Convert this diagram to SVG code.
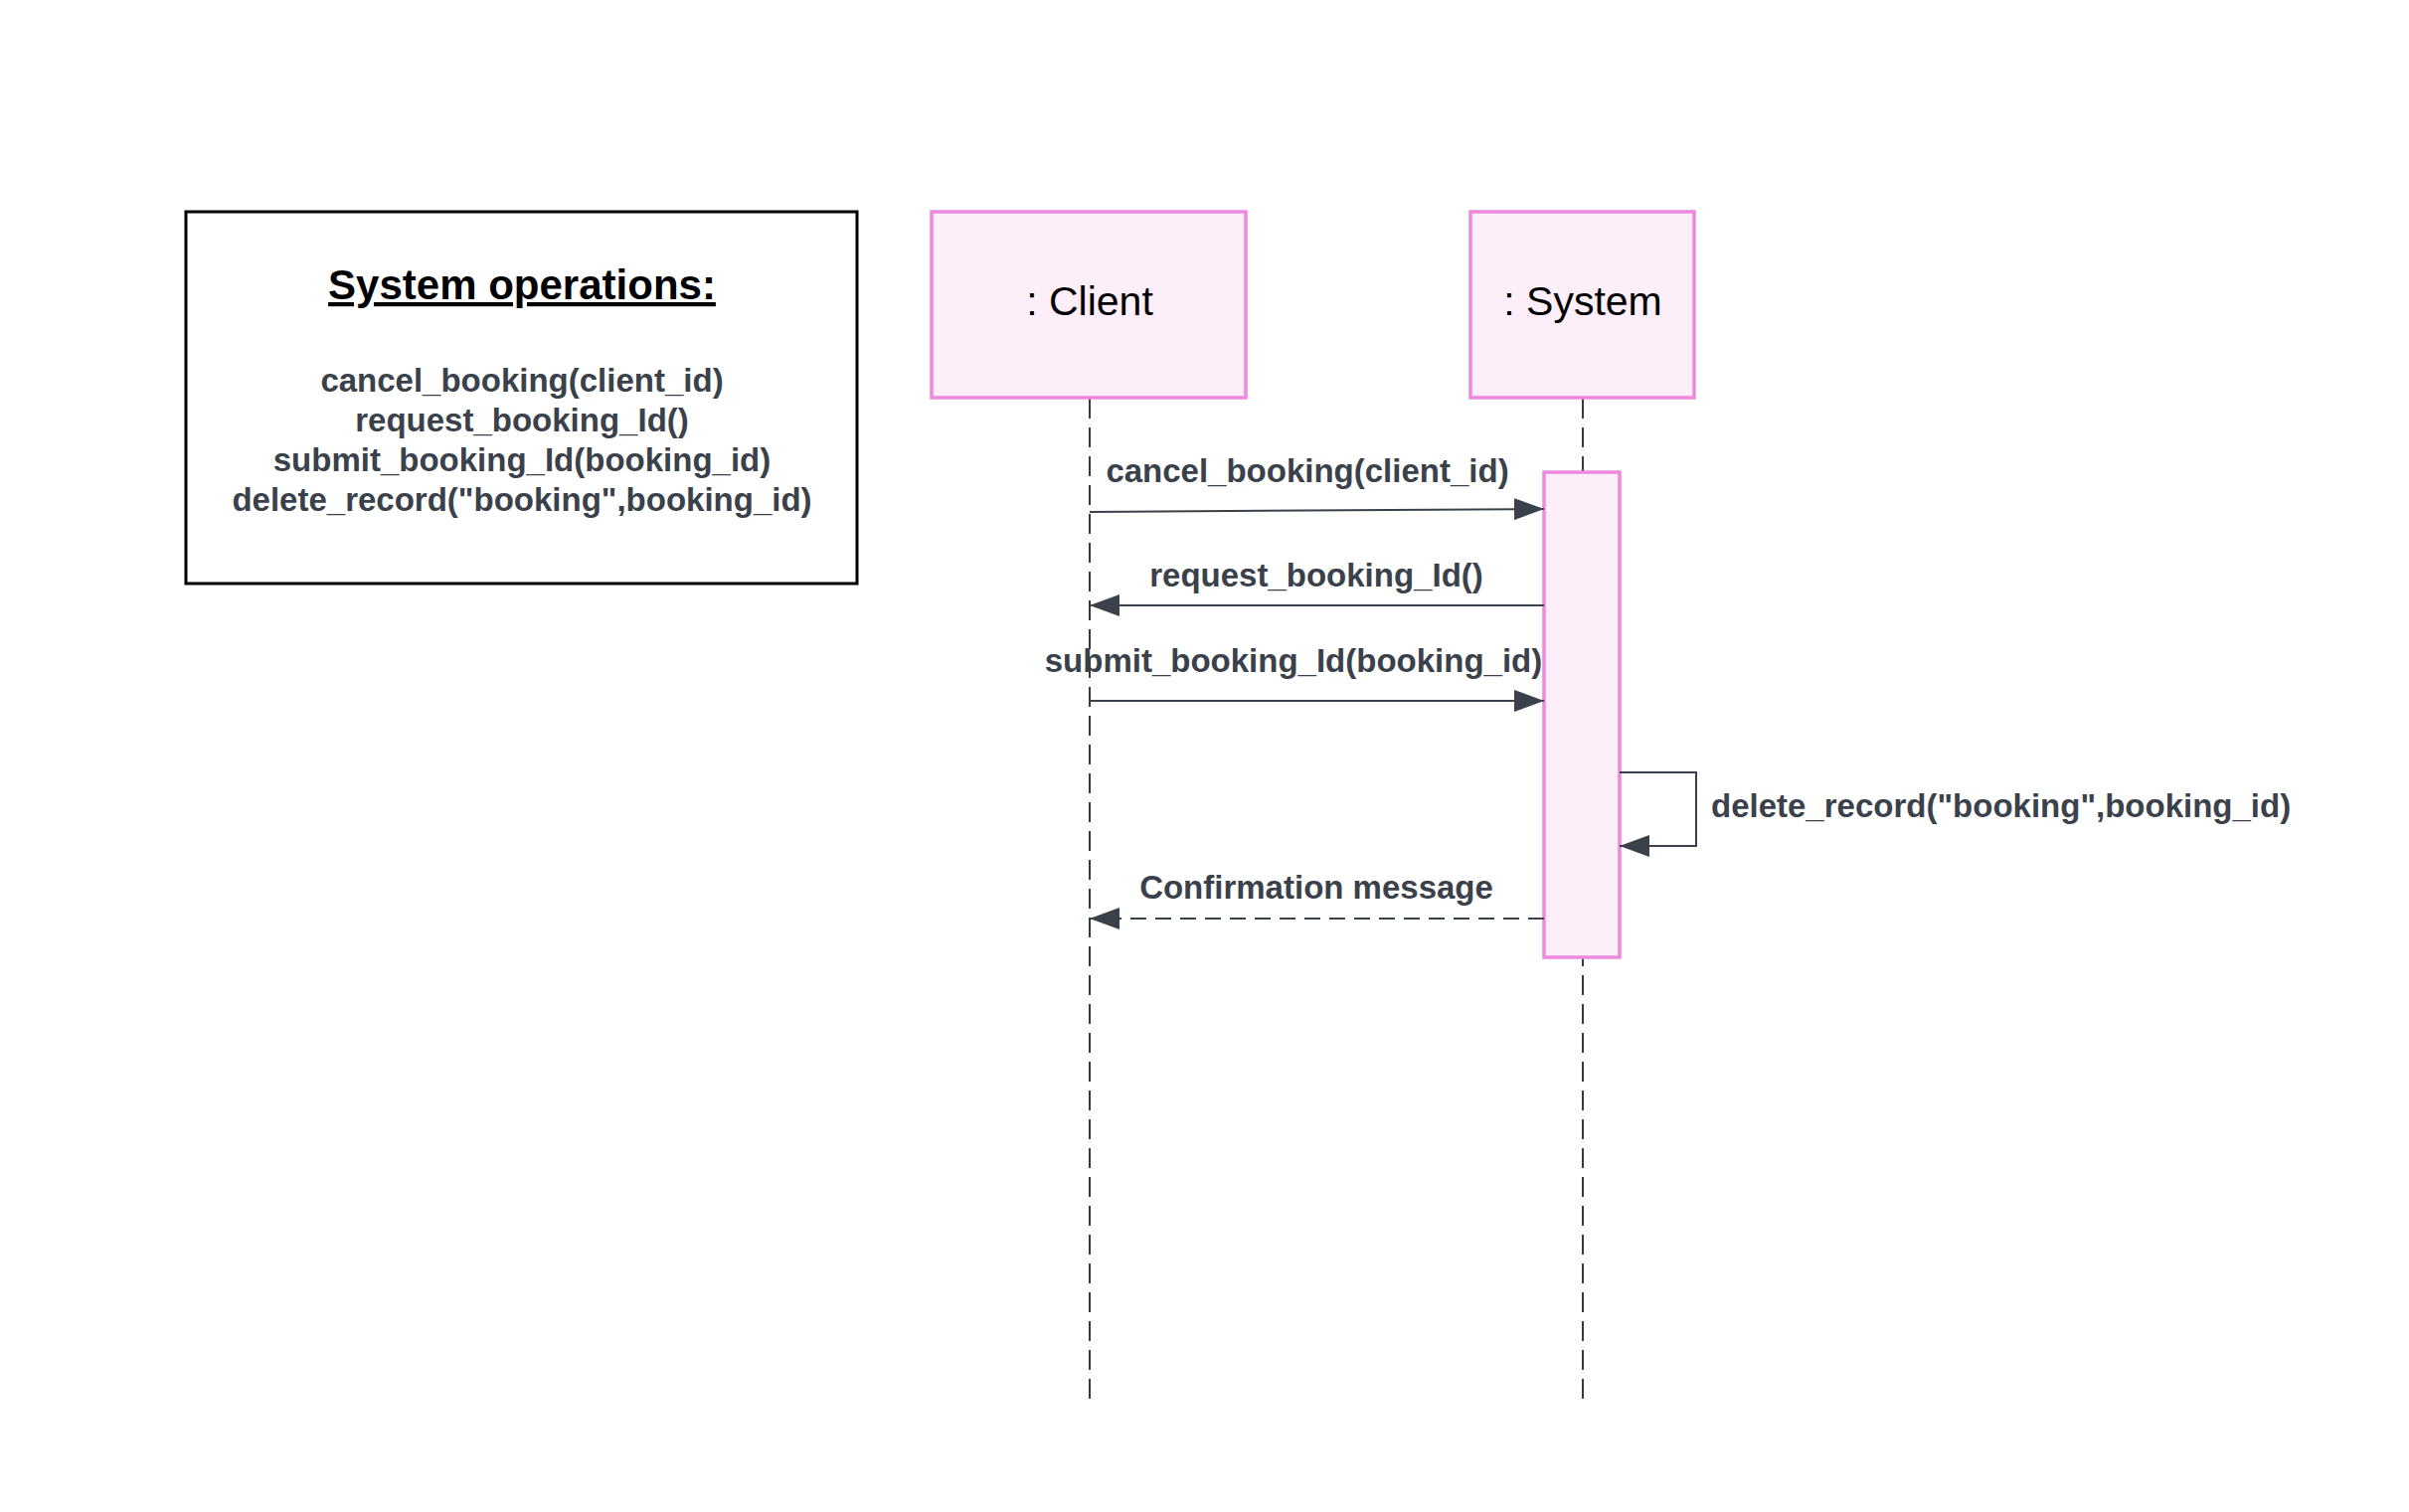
<svg xmlns="http://www.w3.org/2000/svg" width="2423" height="1521" viewBox="0 0 2423 1521">
<style>
.bg{fill:#ffffff}
.obj{fill:#fdeefa;stroke:#ee88dd;stroke-width:3.5}
.objtxt{font-family:"Liberation Sans",Arial,sans-serif;font-size:41px;fill:#000;text-anchor:middle}
.life{stroke:#3a3a3a;stroke-width:2;stroke-dasharray:20 9;fill:none}
.msg{stroke:#3a414a;stroke-width:2;fill:none}
.ret{stroke:#3a414a;stroke-width:2;fill:none;stroke-dasharray:16 9}
.lbl{font-family:"Liberation Sans",Arial,sans-serif;font-size:33px;font-weight:bold;fill:#3a414a}
.title{font-family:"Liberation Sans",Arial,sans-serif;font-size:42px;font-weight:bold;fill:#000;text-anchor:middle;text-decoration:underline}
</style>
<defs>
<marker id="arr" viewBox="0 0 10 10" refX="10" refY="5" markerWidth="30" markerHeight="22" markerUnits="userSpaceOnUse" orient="auto" preserveAspectRatio="none">
<path d="M0,0 L10,5 L0,10 z" fill="#3a414a"/>
</marker>
</defs>
<rect class="bg" x="0" y="0" width="2423" height="1521"/>
<g id="sysops">
<rect x="187" y="213" width="675" height="374" fill="#fff" stroke="#000" stroke-width="3"/>
<text class="title" x="525" y="301">System operations:</text>
<text class="lbl" text-anchor="middle" x="525" y="394">cancel_booking(client_id)</text>
<text class="lbl" text-anchor="middle" x="525" y="434">request_booking_Id()</text>
<text class="lbl" text-anchor="middle" x="525" y="474">submit_booking_Id(booking_id)</text>
<text class="lbl" text-anchor="middle" x="525" y="514">delete_record("booking",booking_id)</text>
</g>
<g id="lifelines">
<line class="life" x1="1096" y1="401" x2="1096" y2="1413"/>
<line class="life" x1="1592" y1="401" x2="1592" y2="1413"/>
</g>
<g id="client">
<rect class="obj" x="937" y="213" width="316" height="187"/>
<text class="objtxt" x="1096" y="317">: Client</text>
</g>
<g id="system">
<rect class="obj" x="1479" y="213" width="225" height="187"/>
<text class="objtxt" x="1592" y="317">: System</text>
</g>
<g id="activation">
<rect class="obj" x="1553" y="475" width="76" height="488"/>
</g>
<g id="connectors">
<line class="msg" x1="1096" y1="515" x2="1553" y2="512" marker-end="url(#arr)"/>
<line class="msg" x1="1553" y1="609" x2="1096" y2="609" marker-end="url(#arr)"/>
<line class="msg" x1="1096" y1="705" x2="1553" y2="705" marker-end="url(#arr)"/>
<path class="msg" d="M1629,777 H1706 V851 H1629" marker-end="url(#arr)"/>
<line class="ret" x1="1553" y1="924" x2="1096" y2="924" marker-end="url(#arr)"/>
<text class="lbl" text-anchor="middle" x="1315" y="485">cancel_booking(client_id)</text>
<text class="lbl" text-anchor="middle" x="1324" y="590">request_booking_Id()</text>
<text class="lbl" text-anchor="middle" x="1301" y="676">submit_booking_Id(booking_id)</text>
<text class="lbl" x="1721" y="822">delete_record("booking",booking_id)</text>
<text class="lbl" text-anchor="middle" x="1324" y="904">Confirmation message</text>
</g>
</svg>
